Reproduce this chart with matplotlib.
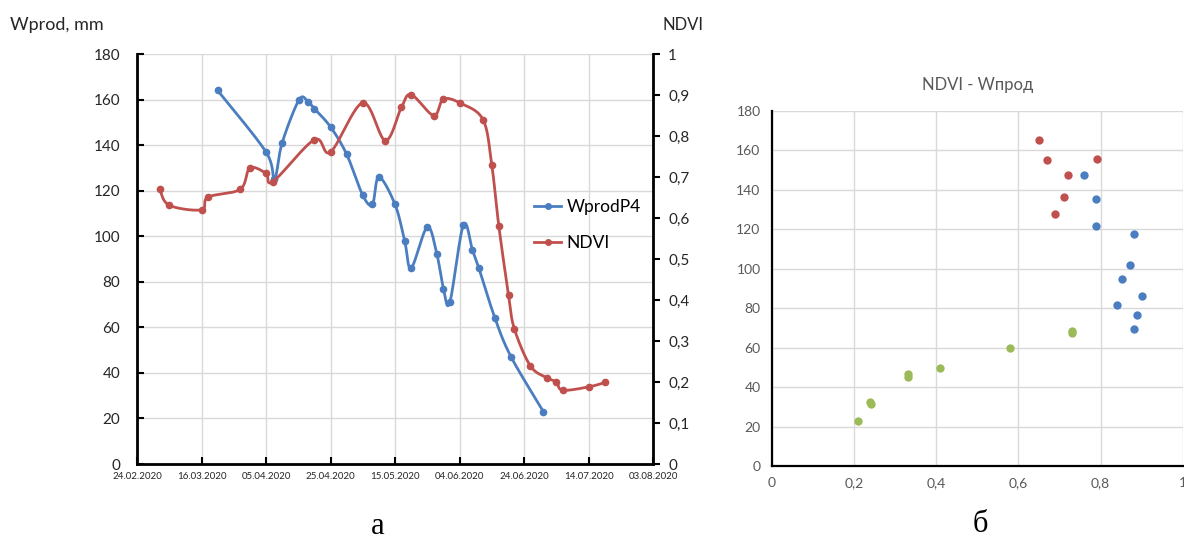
import numpy as np
import matplotlib
matplotlib.use("Agg")
import matplotlib.pyplot as plt
from matplotlib.lines import Line2D

plt.rcParams['font.family'] = ['Lato', 'DejaVu Sans']

# ---------------- data ----------------
# x: days since the first x tick (24.02.2020), ticks every 20 days
x_tick_days = [0, 20, 40, 60, 80, 100, 120, 140, 160]
x_tick_labels = ["24.02.2020", "16.03.2020", "05.04.2020", "25.04.2020", "15.05.2020",
                 "04.06.2020", "24.06.2020", "14.07.2020", "03.08.2020"]

wprod_days = [25, 40, 42.6, 45, 50.3, 53, 55, 60, 65, 70, 73, 75, 80, 83, 85, 90, 93, 95, 97,
              101.2, 104, 106, 111, 116, 126]
wprod_vals = [164, 137, 125, 141, 160, 159, 156, 148, 136, 118, 114, 126, 114, 98, 86, 104, 92,
              77, 71, 105, 94, 86, 64, 47, 23]

ndvi_days = [7, 10, 20, 22, 32, 35, 40, 42.2, 55, 60, 70, 77, 82, 85, 92, 95, 100.3, 107.3, 110,
             112.2, 115.2, 117, 122, 127.2, 130, 132, 140, 145.2]
ndvi_vals = [0.670, 0.631, 0.620, 0.651, 0.670, 0.722, 0.709, 0.689, 0.791, 0.761, 0.881, 0.789,
             0.870, 0.901, 0.850, 0.890, 0.880, 0.840, 0.730, 0.580, 0.412, 0.330, 0.239, 0.210,
             0.200, 0.180, 0.188, 0.199]

wprod_ticks = [0, 20, 40, 60, 80, 100, 120, 140, 160, 180]
ndvi_ticks = [0, 0.1, 0.2, 0.3, 0.4, 0.5, 0.6, 0.7, 0.8, 0.9, 1.0]
ndvi_tick_labels = ["0", "0,1", "0,2", "0,3", "0,4", "0,5", "0,6", "0,7", "0,8", "0,9", "1"]

# scatter NDVI - Wprod
red_x = [0.650, 0.671, 0.720, 0.791, 0.710, 0.690]
red_y = [165.0, 154.9, 147.6, 155.7, 136.4, 127.8]
blue_x = [0.760, 0.790, 0.790, 0.881, 0.871, 0.852, 0.901, 0.841, 0.890, 0.881]
blue_y = [147.6, 135.5, 121.6, 117.7, 101.8, 94.7, 85.9, 81.6, 76.7, 69.6]
green_x = [0.730, 0.730, 0.581, 0.410, 0.331, 0.331, 0.240, 0.241, 0.211]
green_y = [68.5, 67.2, 59.9, 49.8, 46.5, 45.2, 32.3, 31.4, 22.8]
sc_x_ticks = [0, 0.2, 0.4, 0.6, 0.8, 1.0]
sc_x_labels = ["0", "0,2", "0,4", "0,6", "0,8", "1"]
sc_y_ticks = [0, 20, 40, 60, 80, 100, 120, 140, 160, 180]

BLUE = "#4A7EC0"
RED = "#C0504D"
GREEN = "#9BBB59"
GRID = "#D9D9D9"


def smooth(xs, ys, n=24):
    """Excel-like smoothed line (cubic Bezier through points)."""
    P = np.column_stack([xs, ys]).astype(float)
    out = [P[0]]
    m = len(P)
    for i in range(m - 1):
        p0 = P[i - 1] if i > 0 else P[i]
        p1 = P[i]
        p2 = P[i + 1]
        p3 = P[i + 2] if i + 2 < m else P[i + 1]
        c1 = p1 + (p2 - p0) / 6.0
        c2 = p2 - (p3 - p1) / 6.0
        t = np.linspace(0, 1, n)[1:, None]
        seg = ((1 - t) ** 3) * p1 + 3 * ((1 - t) ** 2) * t * c1 + 3 * (1 - t) * t ** 2 * c2 + t ** 3 * p2
        out.extend(seg)
    out = np.array(out)
    return out[:, 0], out[:, 1]


fig = plt.figure(figsize=(11.84, 5.44), dpi=100)

# ---------------- left chart ----------------
ax = fig.add_axes([137 / 1184, 1 - 464 / 544, (653 - 137) / 1184, (464 - 54) / 544])
ax2 = ax.twinx()

ax.set_xlim(0, 160)
ax.set_ylim(0, 180)
ax2.set_ylim(0, 1)

ax.set_xticks(x_tick_days)
ax.set_xticklabels(x_tick_labels, fontsize=7, color="#262626")
ax.set_yticks(wprod_ticks)
ax.set_yticklabels([str(v) for v in wprod_ticks], fontsize=11, color="#262626")
ax2.set_yticks(ndvi_ticks)
ax2.set_yticklabels(ndvi_tick_labels, fontsize=11, color="#262626")

ax.grid(True, color=GRID, linewidth=1.0)
ax.set_axisbelow(True)
for s in ["left", "bottom"]:
    ax.spines[s].set_linewidth(2.0)
    ax.spines[s].set_color("black")
ax.spines["top"].set_visible(False)
ax.spines["right"].set_visible(False)
ax2.spines["top"].set_visible(False)
ax2.spines["left"].set_visible(False)
ax2.spines["bottom"].set_visible(False)
ax2.spines["right"].set_linewidth(2.0)
ax2.spines["right"].set_color("black")

ax.tick_params(axis="y", direction="in", length=5, width=1.5, pad=12)
ax.tick_params(axis="x", direction="in", length=5, width=1.5, pad=6)
ax2.tick_params(axis="y", direction="out", length=5, width=1.5, pad=6)

sx, sy = smooth(wprod_days, wprod_vals)
ax.plot(sx, sy, color=BLUE, linewidth=2.0, zorder=3)
ax.plot(wprod_days, wprod_vals, linestyle="none", marker="o", markersize=4.5, color=BLUE, zorder=4)

nx, ny = smooth(ndvi_days, ndvi_vals)
ax2.plot(nx, ny, color=RED, linewidth=2.0, zorder=3)
ax2.plot(ndvi_days, ndvi_vals, linestyle="none", marker="o", markersize=4.5, color=RED, zorder=4)

handles = [Line2D([0], [0], color=BLUE, lw=2.0, marker="o", markersize=4),
           Line2D([0], [0], color=RED, lw=2.0, marker="o", markersize=4)]
fig.legend(handles, ["WprodP4", "NDVI"], loc="center left",
           bbox_to_anchor=(518 / 1184, 1 - 225 / 544), frameon=False, fontsize=12.5,
           handlelength=1.6, handletextpad=0.3, labelspacing=1.15)

fig.text(10 / 1184, 1 - 25 / 544, "Wprod, mm", fontsize=13, ha="left", va="center", color="#262626")
fig.text(683 / 1184, 1 - 25 / 544, "NDVI", fontsize=12, ha="center", va="center", color="#262626")

# ---------------- right chart ----------------
bx = fig.add_axes([771.7 / 1184, 1 - 466 / 544, (1182.7 - 771.7) / 1184, (466 - 110.7) / 544])
bx.set_xlim(0, 1)
bx.set_ylim(0, 180)
bx.set_xticks(sc_x_ticks)
bx.set_xticklabels(sc_x_labels, fontsize=10, color="#595959")
bx.set_yticks(sc_y_ticks)
bx.set_yticklabels([str(v) for v in sc_y_ticks], fontsize=10, color="#595959")
bx.grid(True, color=GRID, linewidth=1.0)
bx.set_axisbelow(True)
bx.spines["top"].set_visible(False)
bx.spines["right"].set_visible(False)
for s in ["left", "bottom"]:
    bx.spines[s].set_linewidth(1.6)
    bx.spines[s].set_color("black")
bx.tick_params(axis="both", length=0, pad=8)

bx.scatter(red_x, red_y, s=36, color=RED, zorder=3, linewidths=0)
bx.scatter(blue_x, blue_y, s=36, color=BLUE, zorder=3, linewidths=0)
bx.scatter(green_x, green_y, s=36, color=GREEN, zorder=3, linewidths=0)
fig.text(978 / 1184, 1 - 85 / 544, "NDVI - Wпрод", fontsize=12, ha="center", va="center", color="#595959")

# panel labels
fig.text(378 / 1184, 1 - 526 / 544, "а", fontsize=22, ha="center", va="center",
         family=["Liberation Serif", "DejaVu Serif"])
fig.text(980 / 1184, 1 - 524 / 544, "б", fontsize=22, ha="center", va="center",
         family=["Liberation Serif", "DejaVu Serif"])

fig.savefig("out.png", dpi=100)
